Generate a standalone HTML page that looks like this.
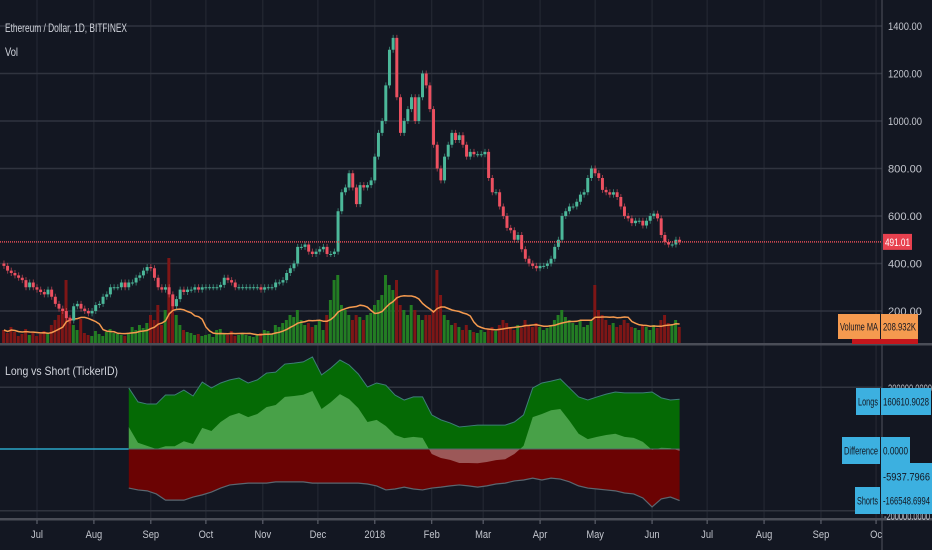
<!DOCTYPE html>
<html><head><meta charset="utf-8"><style>
html,body{margin:0;padding:0;background:#131722;}
svg{display:block;font-family:"Liberation Sans",sans-serif;}
</style></head><body>
<svg id="c" width="932" height="550" viewBox="0 0 932 550" xmlns="http://www.w3.org/2000/svg">
<defs>
<clipPath id="above"><rect x="0" y="340" width="882" height="109"/></clipPath>
<clipPath id="below"><rect x="0" y="449" width="882" height="70"/></clipPath>
</defs>
<rect x="0" y="0" width="932" height="550" fill="#131722"/>
<g id="grid"></g>
<g id="vol"></g>
<g id="candles"></g>
<g id="lower"></g>
<g id="axes"></g>
</svg>
<script>
// ---- price data (2-day closes, starting 12 Jun 2017) ----
const closes=[390,370,360,350,340,330,300,320,300,290,
280,270,290,260,230,210,200,170,160,220,230,210,200,190,200,
225,230,260,270,300,300,300,320,300,320,320,340,350,370,385,
380,340,300,290,300,270,220,250,290,280,290,290,300,290,300,
300,300,300,300,310,340,330,320,300,300,300,300,300,300,300,
290,300,300,300,320,320,330,360,380,400,470,470,480,450,440,
450,460,470,440,440,450,620,700,720,780,720,650,730,720,730,750,
850,950,1000,1150,1300,1350,1100,950,1000,1050,1100,1000,1100,1200,1150,
1050,900,800,750,850,900,950,920,940,900,850,870,860,860,
860,870,760,700,700,640,600,550,540,500,520,460,420,400,390,
380,390,390,400,420,470,500,600,620,640,640,660,690,700,760,
800,780,760,710,700,690,700,680,640,600,590,570,580,580,560,
580,600,610,590,520,490,480,480,500,491];
const volumes=[150,120,180,130,90,110,160,100,120,90,
110,140,120,200,250,300,350,650,280,200,150,260,120,100,90,
140,110,90,130,160,120,110,100,90,120,180,150,200,170,220,
300,250,400,200,350,870,500,300,200,150,130,120,100,110,90,
100,110,80,150,160,120,100,140,90,100,110,100,90,80,100,
120,150,140,110,200,180,220,250,300,280,350,250,200,220,180,
200,250,150,300,450,650,700,400,350,300,250,300,280,250,300,320,
400,450,500,700,600,550,650,400,350,300,400,350,300,250,300,
300,350,750,500,300,250,200,220,180,150,200,150,130,120,
150,130,160,180,140,200,250,220,180,150,200,170,250,200,180,
220,180,150,170,200,250,300,350,280,250,220,200,250,180,200,
250,600,350,300,250,200,220,180,200,250,220,180,170,150,200,
180,150,200,170,250,300,220,200,250,180];
// ---- long vs short (K), every 5 days from 20 Aug 2017 ----
const longs=[197,152,145,145,174,174,190,171,216,197,213,223,229,213,223,245,248,274,277,281,297,239,261,287,271,242,200,213,206,174,158,168,168,110,94,84,71,74,77,77,77,77,87,110,197,213,219,226,197,168,158,168,177,184,181,181,181,184,165,158,160.6];
const shorts=[-126,-132,-135,-145,-165,-165,-165,-155,-148,-139,-126,-116,-113,-110,-110,-110,-106,-106,-106,-106,-110,-110,-110,-110,-110,-110,-113,-119,-132,-129,-123,-129,-132,-126,-123,-119,-116,-119,-123,-119,-113,-110,-103,-100,-94,-100,-94,-97,-106,-119,-126,-129,-132,-135,-142,-145,-158,-187,-161,-155,-166.5];
const priceTicks=[1400,1200,1000,800,600,400,200];
const monthLabels=['Jul','Aug','Sep','Oct','Nov','Dec','2018','Feb','Mar','Apr','May','Jun','Jul','Aug','Sep','Oc'];
const monthDays=[0,31,62,92,123,153,184,215,243,274,304,335,365,396,427,457];

const NS='http://www.w3.org/2000/svg';
function mk(tag,attrs,parent,txt){const e=document.createElementNS(NS,tag);for(const k in attrs)e.setAttribute(k,attrs[k]);if(txt!==undefined)e.textContent=txt;parent.appendChild(e);return e;}
const PX=1.836, X0=37;
const xDay=d=>X0+d*PX;
const yPrice=p=>26+(1400-p)*0.2375;
const yVol=v=>345-v*0.1;
const yLS=v=>449-v*0.31;
const G=id=>document.getElementById(id);

// grid
const grid=G('grid');
monthDays.forEach((d,i)=>{const l=mk('line',{x1:xDay(d),x2:xDay(d),y1:0,y2:518,stroke:'#262a35','stroke-width':1},grid);

});
priceTicks.forEach(p=>{const l=mk('line',{x1:0,x2:882,y1:yPrice(p),y2:yPrice(p),stroke:'#30343f','stroke-width':1.5},grid);

});
[200,-200].forEach(v=>{const l=mk('line',{x1:0,x2:882,y1:yLS(v*0.995),y2:yLS(v*0.995),stroke:'#30343f','stroke-width':1.5},grid);

});

// volume + MA
const vg=G('vol');
const w=2*PX-0.7;
let maPts=[];
volumes.forEach((v,i)=>{const d=-19+2*i;const o=i?closes[i-1]:400;const up=closes[i]>=o;
const r=mk('rect',{x:xDay(d),y:yVol(v),width:w,height:345-yVol(v),fill:up?'#237d23':'#7e1616'},vg);


const s=volumes.slice(Math.max(0,i-9),i+1);const m=s.reduce((a,b)=>a+b,0)/s.length;
maPts.push(xDay(d+1)+','+yVol(m));});
const ma=mk('polyline',{points:maPts.join(' '),fill:'none',stroke:'#f59a4f','stroke-width':1.5},vg);



// candles
const cg=G('candles');
closes.forEach((c,i)=>{const d=-19+2*i;const o=i?closes[i-1]:400;const up=c>=o;
const col=up?'#4cb89a':'#ec5060';
const top=yPrice(Math.max(o,c)),bot=yPrice(Math.min(o,c));
const wk=mk('line',{x1:xDay(d+1),x2:xDay(d+1),y1:top-3,y2:bot+3,stroke:col,'stroke-width':1,opacity:0.6},cg);


const r=mk('rect',{x:xDay(d)+0.3,y:top,width:w,height:Math.max(1,bot-top),fill:col},cg);

});
const cur=closes[closes.length-1];
const pl=mk('line',{x1:0,x2:882,y1:yPrice(cur),y2:yPrice(cur),stroke:'#e04c55','stroke-width':1.5,'stroke-dasharray':'1,1'},cg);



// lower pane
const lg=G('lower');
const lx=j=>xDay(50+5*j);
function area(vals){let p='M'+lx(0)+','+yLS(0);vals.forEach((v,j)=>p+=' L'+lx(j)+','+yLS(v));p+=' L'+lx(vals.length-1)+','+yLS(0)+' Z';return p;}
function line(vals){return vals.map((v,j)=>(j?'L':'M')+lx(j)+','+yLS(v)).join(' ');}
const diff=longs.map((v,j)=>v+shorts[j]);
const zl=mk('line',{x1:0,x2:lx(0),y1:449,y2:449,stroke:'#2aa6c8','stroke-width':1.5},lg);


let e;
e=mk('path',{d:area(longs),fill:'#056a05'},lg);


e=mk('path',{d:area(shorts),fill:'#6b0303'},lg);


e=mk('path',{d:area(diff),fill:'#48a148','clip-path':'url(#above)'},lg);


e=mk('path',{d:area(diff),fill:'#9c5858','clip-path':'url(#below)'},lg);


e=mk('path',{d:line(longs),fill:'none',stroke:'#3e7d78','stroke-width':1},lg);


e=mk('path',{d:line(shorts),fill:'none',stroke:'#5b6770','stroke-width':1.2},lg);


e=mk('line',{x1:lx(0),x2:lx(longs.length-1),y1:449,y2:449,stroke:'#4f6a6a','stroke-width':1},lg);



// axes
const ag=G('axes');
e=mk('line',{x1:882,x2:882,y1:0,y2:550,stroke:'#50535e','stroke-width':1},ag);


e=mk('rect',{x:0,y:343,width:932,height:2.5,fill:'#4a4d57'},ag);


e=mk('rect',{x:0,y:518,width:932,height:2.5,fill:'#4a4d57'},ag);


priceTicks.forEach(p=>{const t=mk('text',{x:888,y:yPrice(p)+4,fill:'#c3c6ce','font-size':11,textLength:34,lengthAdjust:'spacingAndGlyphs'},ag,p.toFixed(2));

});
monthLabels.forEach((m,i)=>{const x=xDay(monthDays[i]);
const tk=mk('line',{x1:x,x2:x,y1:520,y2:524,stroke:'#6a6d78'},ag);


const t=mk('text',{x:x,y:538,fill:'#c3c6ce','font-size':11,'text-anchor':'middle',transform:'translate('+x+',0) scale(0.85,1) translate('+(-x)+',0)'},ag,m);

});
e=mk('text',{x:888,y:392,fill:'#c3c6ce','font-size':11,textLength:44,lengthAdjust:'spacingAndGlyphs'},ag,'200000.0000');


e=mk('text',{x:884,y:520,fill:'#c3c6ce','font-size':11,textLength:46,lengthAdjust:'spacingAndGlyphs'},ag,'-200000.0000');



function box(x,y,wd,h,fill,txt,name,tcol){const r=mk('rect',{x:x,y:y,width:wd,height:h,fill:fill},ag);


if(!txt)return;
const t=mk('text',{x:x+2,y:y+h/2+4,fill:tcol||'#131722','font-size':11,textLength:wd-4,lengthAdjust:'spacingAndGlyphs'},ag,txt);

}
box(883,yPrice(cur)-8,29,16,'#e8414f','491.01','last-price','#ffffff');
box(852,339,66,5,'#c4161c','','vol-under');
box(838,314,42,25,'#f59a4f','Volume MA','volume-ma-name');
box(881,314,37,25,'#f59a4f','208.932K','volume-ma-value');
box(856,388,24,27,'#3cb0e0','Longs','longs-name');
box(881,388,50,27,'#3cb0e0','160610.9028','longs-value');
box(842,437,38,27,'#3cb0e0','Difference','difference-name');
box(881,437,29,27,'#3cb0e0','0.0000','difference-value');
box(881,463,51,27,'#3cb0e0','-5937.7966','difference-value2');
box(855,487,25,27,'#3cb0e0','Shorts','shorts-name');
box(881,487,51,27,'#3cb0e0','-166548.6994','shorts-value');

e=mk('text',{x:5,y:32,fill:'#d1d4dc','font-size':12,textLength:122,lengthAdjust:'spacingAndGlyphs'},ag,'Ethereum / Dollar, 1D, BITFINEX');


e=mk('text',{x:5,y:56,fill:'#d1d4dc','font-size':12,textLength:13,lengthAdjust:'spacingAndGlyphs'},ag,'Vol');


e=mk('text',{x:5,y:375,fill:'#d1d4dc','font-size':12,textLength:113,lengthAdjust:'spacingAndGlyphs'},ag,'Long vs Short (TickerID)');


</script>
</body></html>
